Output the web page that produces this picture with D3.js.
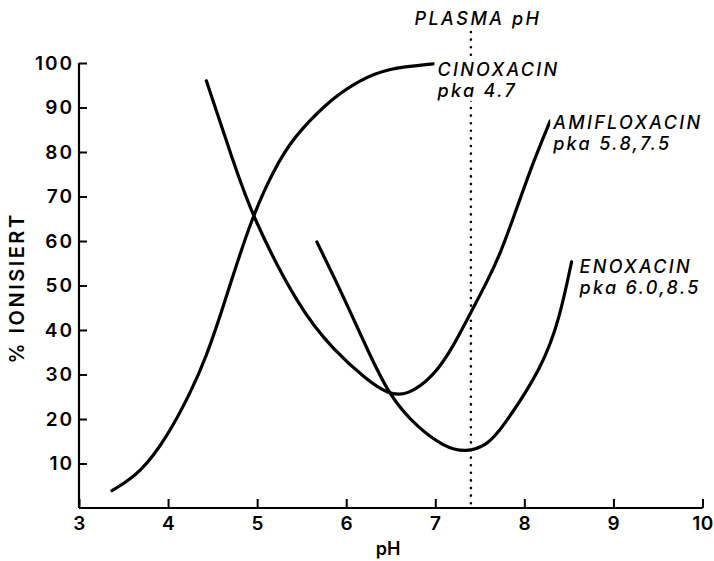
<!DOCTYPE html>
<html>
<head>
<meta charset="utf-8">
<script src="https://cdn.jsdelivr.net/npm/d3@7"></script>
<style>
  body { margin: 0; background: #fff; }
  svg { display: block; }
</style>
</head>
<body>
<div id="chart"></div>
<script>
// Axis ticks
const xTicks = [3, 4, 5, 6, 7, 8, 9, 10]
const yTicks = [10, 20, 30, 40, 50, 60, 70, 80, 90, 100]
const plasmaPH = 7.4

// Curves (pH, % ionised)
const cinoxacinPH = [3.37, 3.69, 3.99, 4.25, 4.43, 4.62, 4.94, 5.26, 5.48, 5.86, 6.16, 6.46, 6.98]
const cinoxacinVal = [3.9, 7.8, 16.0, 25.8, 34.0, 45.2, 65.7, 78.9, 84.9, 92.4, 96.2, 98.8, 99.8]

const amifloxacinPH = [4.43, 4.73, 4.94, 5.48, 5.86, 6.23, 6.47, 6.68, 6.98, 7.20, 7.39, 7.58, 7.73, 7.90, 8.09, 8.29]
const amifloxacinVal = [96.0, 78.0, 65.7, 44.5, 35.5, 28.8, 25.6, 25.2, 29.5, 36.2, 43.6, 50.8, 57.1, 66.5, 77.3, 87.0]

const enoxacinPH = [5.67, 5.97, 6.23, 6.49, 6.79, 7.09, 7.35, 7.58, 7.73, 8.21, 8.40, 8.53]
const enoxacinVal = [59.8, 47.5, 35.9, 25.0, 18.3, 13.8, 12.4, 14.2, 17.3, 31.8, 43.0, 55.3]

const drugNames = ['CINOXACIN', 'AMIFLOXACIN', 'ENOXACIN']
const drugPka = ['pka 4.7', 'pka 5.8,7.5', 'pka 6.0,8.5']

const width = 714
const height = 561
const margin = { top: 63, right: 11.5, bottom: 53, left: 79 }
const font = "Inter, 'DejaVu Sans', sans-serif"

const svg = d3.select('#chart').append('svg')
  .attr('width', width)
  .attr('height', height)

const x = d3.scaleLinear().domain([3, 10]).range([margin.left, width - margin.right])
const y = d3.scaleLinear().domain([0, 100]).range([height - margin.bottom, margin.top])

// Plasma pH dotted line (drawn first so the label box can mask it)
svg.append('line')
  .attr('x1', x(plasmaPH))
  .attr('x2', x(plasmaPH))
  .attr('y1', 32)
  .attr('y2', y(0))
  .attr('stroke', '#000')
  .attr('stroke-width', 2.6)
  .attr('stroke-linecap', 'round')
  .attr('stroke-dasharray', '0,7.6')

svg.append('text')
  .attr('x', x(plasmaPH) + 7)
  .attr('y', 25)
  .attr('text-anchor', 'middle')
  .style('font-family', font)
  .style('font-style', 'italic')
  .style('font-weight', 500)
  .style('font-size', '18px')
  .style('letter-spacing', '2.5px')
  .text('PLASMA pH')

// Axes
const xAxis = svg.append('g')
  .attr('transform', `translate(0,${y(0)})`)
  .call(d3.axisBottom(x).tickValues(xTicks).tickFormat(d3.format('d'))
    .tickSize(-9).tickSizeOuter(0).tickPadding(9))

const yAxis = svg.append('g')
  .attr('transform', `translate(${x(3)},0)`)
  .call(d3.axisLeft(y).tickValues(yTicks).tickFormat(d3.format('d'))
    .tickSize(-8).tickSizeOuter(0).tickPadding(7))

;[xAxis, yAxis].forEach(g => {
  g.select('.domain').attr('stroke-width', 2.2)
  g.selectAll('.tick line').attr('stroke-width', 2)
  g.selectAll('.tick text')
    .style('font-family', font)
    .style('font-weight', 600)
    .style('font-size', '19px')
    .attr('fill', '#000')
})
// y labels are spaced wider; letter-spacing adds a trailing gap, so pull them back
yAxis.selectAll('.tick text').style('letter-spacing', '2px').attr('dx', '2px')
xAxis.selectAll('.tick text').style('letter-spacing', '0.5px')
// y domain should stop at 100, x domain at 10
yAxis.select('.domain').attr('d', `M0,${y(0)}V${y(100)}`)
xAxis.select('.domain').attr('d', `M${x(3)},0H${x(10)}`)

svg.append('text')
  .attr('x', 388)
  .attr('y', 555)
  .attr('text-anchor', 'middle')
  .style('font-family', font)
  .style('font-weight', 600)
  .style('font-size', '18px')
  .text('pH')

svg.append('text')
  .attr('transform', 'translate(24,288) rotate(-90)')
  .attr('text-anchor', 'middle')
  .style('font-family', font)
  .style('font-weight', 600)
  .style('font-size', '20px')
  .style('letter-spacing', '2.5px')
  .text('% IONISIERT')

// Curves
const line = d3.line()
  .x(d => x(d[0]))
  .y(d => y(d[1]))
  .curve(d3.curveBasis)

const series = [
  d3.zip(cinoxacinPH, cinoxacinVal),
  d3.zip(amifloxacinPH, amifloxacinVal),
  d3.zip(enoxacinPH, enoxacinVal)
]

series.forEach(pts => {
  svg.append('path')
    .datum(pts)
    .attr('d', line)
    .attr('fill', 'none')
    .attr('stroke', '#000')
    .attr('stroke-width', 3.2)
    .attr('stroke-linecap', 'round')
})

// Labels next to curve ends, one text per line
const labelShift = [[4, 12], [3, 8], [8, 11]]
series.forEach((pts, i) => {
  const end = pts[pts.length - 1]
  const g = svg.append('g')
    .attr('transform', `translate(${x(end[0]) + labelShift[i][0]},${y(end[1]) + labelShift[i][1]})`)
  const bg = g.append('rect').attr('fill', '#fff')
  const lines = [drugNames[i], drugPka[i]]
  lines.forEach((s, j) => {
    g.append('text')
      .attr('class', 'lbl')
      .attr('y', j * 21)
      .style('font-family', font)
      .style('font-style', 'italic')
      .style('font-weight', 500)
      .style('font-size', '18px')
      .style('letter-spacing', '2.3px')
      .text(s)
  })
  const bb = g.node().getBBox()
  bg.attr('x', bb.x - 2).attr('y', bb.y + 2).attr('width', bb.width + 2).attr('height', bb.height - 2)
})
</script>
</body>
</html>
